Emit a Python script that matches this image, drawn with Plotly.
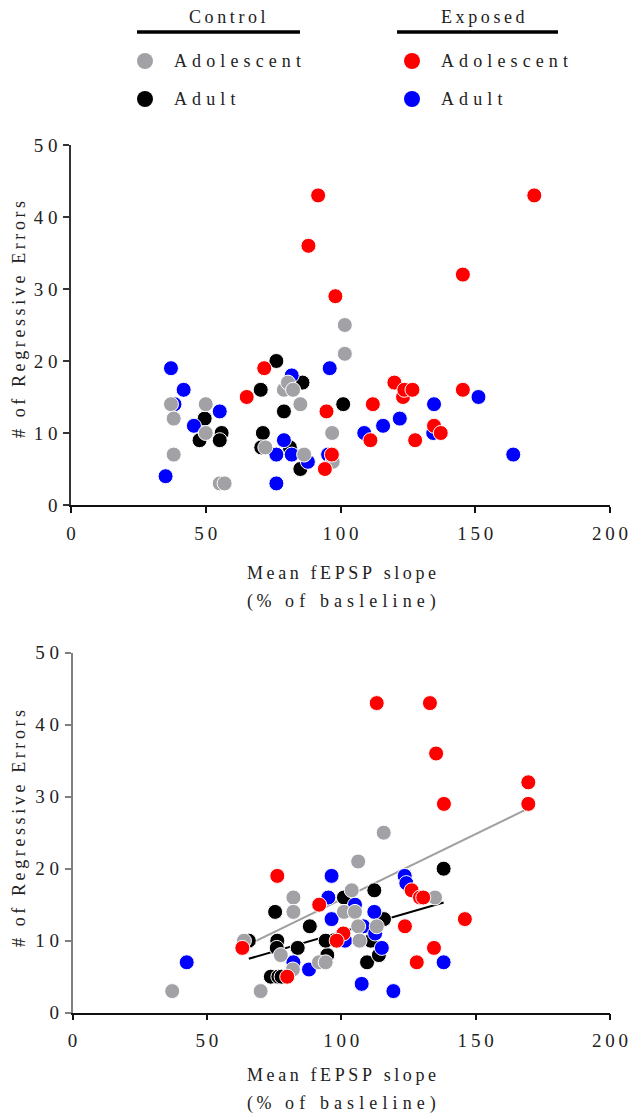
import plotly.graph_objects as go

# ---------------- data ----------------
# Panel A (top)
a_ctrl_adol_x = [37.1, 38.1, 38.1, 50.0, 50.0, 55.2, 57.0, 72.1, 79.0, 80.5, 82.4, 85.1, 86.5, 96.9, 97.1, 101.6, 101.6]
a_ctrl_adol_y = [14, 12, 7, 14, 10, 3, 3, 8, 16, 17, 16, 14, 7, 10, 6, 25, 21]
a_ctrl_adult_x = [76.2, 70.4, 85.9, 79.0, 49.6, 47.7, 55.9, 55.2, 71.2, 70.6, 85.1, 81.2, 101.0]
a_ctrl_adult_y = [20, 16, 17, 13, 12, 9, 10, 9, 10, 8, 5, 8, 14]
a_exp_adol_x = [91.7, 171.9, 88.1, 98.1, 145.4, 94.8, 112.0, 111.1, 94.2, 96.8, 120.0, 123.2, 123.7, 126.7, 127.7, 134.7, 137.2, 145.4, 65.2, 71.7]
a_exp_adol_y = [43, 43, 36, 29, 32, 13, 14, 9, 5, 7, 17, 15, 16, 16, 9, 11, 10, 16, 15, 19]
a_exp_adult_x = [37.1, 41.8, 38.4, 45.6, 55.2, 35.1, 81.9, 79.0, 76.2, 81.9, 76.2, 87.9, 96.0, 95.4, 108.8, 115.8, 122.0, 134.7, 134.4, 151.2, 164.1]
a_exp_adult_y = [19, 16, 14, 11, 13, 4, 18, 9, 7, 7, 3, 6, 19, 7, 10, 11, 12, 14, 10, 15, 7]

# Panel B (bottom)
b_ctrl_adol_x = [37.1, 70.0, 63.8, 82.2, 82.2, 77.5, 82.0, 91.7, 94.2, 115.8, 106.3, 103.9, 101.0, 105.1, 106.3, 113.2, 106.8, 134.9]
b_ctrl_adol_y = [3, 3, 10, 16, 14, 8, 6, 7, 7, 25, 21, 17, 14, 14, 12, 12, 10, 16]
b_ctrl_adult_x = [65.6, 75.4, 76.2, 76.0, 83.8, 88.3, 73.8, 76.6, 77.8, 101.0, 112.3, 138.1, 94.8, 94.2, 115.9, 111.0, 109.6, 114.0]
b_ctrl_adult_y = [10, 14, 10, 9, 9, 12, 5, 5, 5, 16, 17, 20, 8, 10, 13, 10, 7, 8]
b_exp_adol_x = [113.2, 133.0, 135.3, 169.6, 138.2, 169.6, 76.2, 126.2, 129.3, 130.5, 91.8, 146.0, 123.7, 100.8, 98.3, 63.2, 134.5, 128.1, 79.9]
b_exp_adol_y = [43, 43, 36, 32, 29, 29, 19, 17, 16, 16, 15, 13, 12, 11, 10, 9, 9, 7, 5]
b_exp_adult_x = [42.5, 82.2, 88.0, 96.4, 95.2, 96.4, 105.1, 112.3, 108.2, 112.6, 115.1, 107.6, 119.4, 138.1, 123.6, 124.2, 101.4]
b_exp_adult_y = [7, 7, 6, 19, 16, 13, 15, 14, 12, 11, 9, 4, 3, 7, 19, 18, 10]

# Regression lines in panel B
fit_grey_x = [63.2, 169.6]
fit_grey_y = [9.05, 28.37]
fit_black_x = [65.6, 138.1]
fit_black_y = [7.5, 15.3]

x_ticks = [0, 50, 100, 150, 200]
y_ticks = [0, 10, 20, 30, 40, 50]

# ---------------- style ----------------
W, H = 628, 1115
GREY = "#a2a2a6"
RED = "#ff0000"
BLUE = "#0000ff"
BLACK = "#000000"
FONT = "Liberation Serif"
TXT = "#222222"
TS = "\u2009"
TICK_SP = "\u2009"


def sp(s, gap=TS):
    return gap.join(s)


def px(x):
    return x / W


def py(y):
    return 1 - y / H


fig = go.Figure()


def add_group(xs, ys, color, xa, ya):
    fig.add_trace(go.Scatter(
        x=xs, y=ys, mode="markers", xaxis=xa, yaxis=ya, showlegend=False,
        cliponaxis=False,
        marker=dict(size=15, color=color, line=dict(color="white", width=1)),
    ))


# Panel A
add_group(a_ctrl_adult_x, a_ctrl_adult_y, BLACK, "x", "y")
add_group(a_exp_adult_x, a_exp_adult_y, BLUE, "x", "y")
add_group(a_ctrl_adol_x, a_ctrl_adol_y, GREY, "x", "y")
add_group(a_exp_adol_x, a_exp_adol_y, RED, "x", "y")

# Panel B lines
fig.add_trace(go.Scatter(x=fit_grey_x, y=fit_grey_y, mode="lines", xaxis="x2", yaxis="y2",
                         showlegend=False, line=dict(color="#a0a0a0", width=2)))
fig.add_trace(go.Scatter(x=fit_black_x, y=fit_black_y, mode="lines", xaxis="x2", yaxis="y2",
                         showlegend=False, line=dict(color=BLACK, width=2)))
add_group(b_ctrl_adult_x, b_ctrl_adult_y, BLACK, "x2", "y2")
add_group(b_exp_adult_x, b_exp_adult_y, BLUE, "x2", "y2")
add_group(b_ctrl_adol_x, b_ctrl_adol_y, GREY, "x2", "y2")
add_group(b_exp_adol_x, b_exp_adol_y, RED, "x2", "y2")

tickfont = dict(family=FONT, size=19, color=TXT)


def xaxis(anchor, linecolor, x0):
    return dict(
        domain=[px(x0), px(610)], range=[0, 200], anchor=anchor, automargin=False,
        showgrid=False, zeroline=False, showline=True, linecolor=linecolor, linewidth=1.5,
        ticks="outside", ticklen=6, tickwidth=1.5, tickcolor=linecolor,
        tickvals=x_ticks, ticktext=[sp(str(v), TICK_SP) for v in x_ticks],
        tickfont=tickfont, ticklabelstandoff=4, ticklabeloverflow="allow", fixedrange=True,
    )


def yaxis(anchor, y0, y1, linecolor):
    return dict(
        domain=[py(y0), py(y1)], range=[0, 50], anchor=anchor, automargin=False,
        showgrid=False, zeroline=False, showline=True, linecolor=linecolor, linewidth=1.5,
        ticks="outside", ticklen=6, tickwidth=1.5, tickcolor=linecolor,
        tickvals=y_ticks, ticktext=[sp(str(v), "\u2005") for v in y_ticks],
        tickfont=tickfont, ticklabelstandoff=2, ticklabeloverflow="allow", fixedrange=True,
    )


annotations = []
shapes = []

title_font = dict(family=FONT, size=18, color=TXT)
# axis titles
for (ycenter, xt1, xt2) in [(320, 573, 601), (829, 1075, 1103)]:
    annotations.append(dict(
        xref="paper", yref="paper", x=px(19), y=py(ycenter), text=sp("# of Regressive Errors"),
        textangle=-90, showarrow=False, font=title_font,
        xanchor="center", yanchor="middle"))
    annotations.append(dict(
        xref="paper", yref="paper", x=px(341), y=py(xt1), text=sp("Mean fEPSP slope"),
        showarrow=False, font=title_font, xanchor="center", yanchor="middle"))
    annotations.append(dict(
        xref="paper", yref="paper", x=px(341), y=py(xt2),
        text=sp("(%") + " \u2002" + sp("of basleline)", "\u2009\u200a"),
        showarrow=False, font=title_font, xanchor="center", yanchor="middle"))

# legend
leg_font = dict(family=FONT, size=18, color=TXT)
for title, cx, lx0, lx1 in [("Control", 228, 137, 300), ("Exposed", 483, 397, 558)]:
    annotations.append(dict(xref="paper", yref="paper", x=px(cx), y=py(17), text=sp(title),
                            showarrow=False, font=leg_font, xanchor="center", yanchor="middle"))
    shapes.append(dict(type="line", xref="paper", yref="paper", x0=px(lx0), x1=px(lx1),
                       y0=py(32), y1=py(32), line=dict(color=BLACK, width=3.5)))

leg_items = [
    (145, 61, GREY, "Adolescent"),
    (145, 99, BLACK, "Adult"),
    (412, 61, RED, "Adolescent"),
    (412, 99, BLUE, "Adult"),
]
for mx, my, col, label in leg_items:
    shapes.append(dict(type="circle", xref="paper", yref="paper", xsizemode="pixel", ysizemode="pixel",
                       xanchor=px(mx), yanchor=py(my), x0=-8, x1=8, y0=-8, y1=8,
                       fillcolor=col, line=dict(color=col, width=0)))
    annotations.append(dict(xref="paper", yref="paper", x=px(mx + 27), y=py(my),
                            text=sp(label, "\u2009\u200a"),
                            showarrow=False, font=leg_font, xanchor="left", yanchor="middle"))

fig.update_layout(
    width=W, height=H, autosize=False,
    margin=dict(l=0, r=0, t=0, b=0, pad=0, autoexpand=False),
    paper_bgcolor="white", plot_bgcolor="white",
    showlegend=False,
    xaxis=xaxis("y", "#111111", 71.0),
    yaxis=yaxis("x", 505, 145, "#333333"),
    xaxis2=xaxis("y2", "#111111", 72.5),
    yaxis2=yaxis("x2", 1012.7, 652.7, "#808080"),
    annotations=annotations,
    shapes=shapes,
)

fig.write_html("out.html")
